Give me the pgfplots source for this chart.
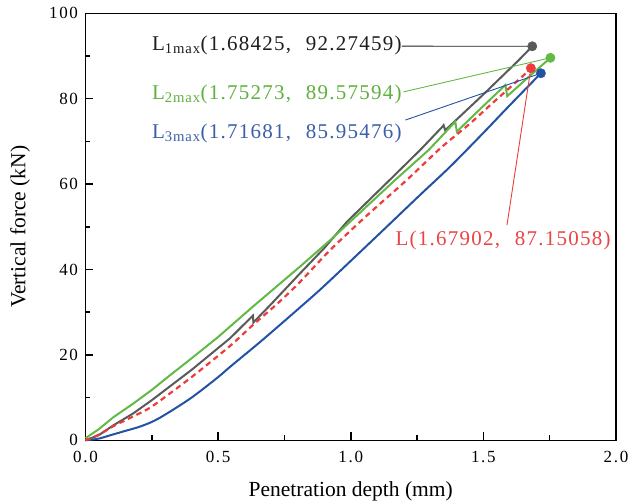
\documentclass[border=0pt]{standalone}
\usepackage{fontspec}
\setmainfont{Liberation Serif}
\newfontfamily\annfont[LetterSpace=6]{Liberation Serif}
\newfontfamily\tickfont[LetterSpace=10]{Liberation Serif}
\usepackage{pgfplots}
\pgfplotsset{compat=1.18}
\definecolor{cgray}{HTML}{5A5A5A}
\definecolor{cgreen}{HTML}{62B946}
\definecolor{cblue}{HTML}{2352A5}
\definecolor{cred}{HTML}{EE3B3B}
\definecolor{tgray}{HTML}{1E1E1E}
\definecolor{tgreen}{HTML}{5FB13F}
\definecolor{tblue}{HTML}{3A5FA8}
\definecolor{tred}{HTML}{E84545}

\pgfplotstableread{
x y
0 0
0.05 1.2
0.105 3.5
0.18 6.3
0.25 9.4
0.4 16.5
0.545 23.9
0.631 29.2
0.633 27.6
0.7 31.9
0.809 39.1
0.9 45.0
0.986 51.2
1.149 61.1
1.262 68.0
1.345 73.4
1.35 73.8
1.356 72.6
1.5 81.0
1.633 89.0
1.68425 92.27459
}\grayL

\pgfplotstableread{
x y
0 0.5
0.05 2.6
0.105 5.4
0.18 8.6
0.25 11.8
0.32 15.3
0.4 19.2
0.5 24.2
0.631 31.3
0.809 40.7
0.923 46.9
0.986 50.5
1.168 61.0
1.294 68.0
1.394 74.6
1.40 72.3
1.5 78.3
1.583 83.2
1.59 80.6
1.66 84.5
1.75273 89.57594
}\greenL

\pgfplotstableread{
x y
0 0
0.05 1.3
0.105 3.3
0.18 5.6
0.25 7.9
0.4 14.8
0.545 22.1
0.631 27.0
0.727 32.2
0.809 37.1
0.923 44.6
1.06 52.6
1.212 61.0
1.338 68.4
1.45 74.2
1.526 78.5
1.652 85.5
1.67902 87.15058
}\redL

\pgfplotstableread{
x y
0 0
0.05 0.4
0.1 1.3
0.15 2.2
0.2 3.1
0.25 4.3
0.3 6.0
0.4 10.0
0.5 14.8
0.545 17.2
0.671 23.7
0.847 33.2
0.923 37.5
1.1 47.9
1.262 57.5
1.375 64.1
1.5 72.0
1.6 78.5
1.71681 85.95476
}\blueL

\begin{document}
\begin{tikzpicture}
\begin{axis}[
  at={(0,0)}, anchor=south west,
  scale only axis, width=530.5bp, height=427bp,
  xmin=0, xmax=2, ymin=0, ymax=100,
  xtick={0,0.5,1,1.5,2}, xticklabels={0.0,0.5,1.0,1.5,2.0},
  minor xtick={0.25,0.75,1.25,1.75},
  ytick={0,20,40,60,80,100}, yticklabels={0,20,40,60,80,100},
  minor ytick={10,30,50,70,90},
  tick pos=left, tick align=inside,
  major tick length=8bp, minor tick length=5bp,
  axis line style={line width=1.5bp},
  every tick/.style={black, line width=1.5bp},
  ticklabel style={font=\tickfont\fontsize{17bp}{20bp}\selectfont},
  xticklabel style={yshift=-7bp},
  yticklabel style={xshift=-4bp},
  xlabel={Penetration depth (mm)},
  ylabel={Vertical force (kN)},
  label style={font=\fontsize{21.5bp}{25bp}\selectfont},
  xlabel style={at={([yshift=-55.7bp]axis description cs:0.5,0)}, anchor=base},
  ylabel style={at={([xshift=-60bp]axis description cs:0,0.5)}, anchor=base, rotate=0},
  clip=false,
]
\addplot[cblue, line width=2bp, smooth, tension=0.5] table {\blueL};
\addplot[cgray, line width=2bp] table {\grayL};
\addplot[cgreen, line width=2bp] table {\greenL};
\addplot[cred, line width=2.2bp, dash pattern=on 5.5bp off 4bp, smooth, tension=0.4] table {\redL};

% leader lines
\draw[tgray, line width=0.9bp] (axis cs:1.193,92.3) -- (axis cs:1.68425,92.27459);
\draw[cgreen, line width=0.9bp] (axis cs:1.199,81.6) -- (axis cs:1.75273,89.57594);
\draw[cblue, line width=0.9bp] (axis cs:1.206,75.0) -- (axis cs:1.71681,85.95476);
\draw[cred, line width=0.9bp] (axis cs:1.589,50.4) -- (axis cs:1.67902,87.15058);

% max points
\addplot[only marks, mark=*, mark size=4.7bp, color=cgray] coordinates {(1.68425,92.27459)};
\addplot[only marks, mark=*, mark size=4.7bp, color=cgreen] coordinates {(1.75273,89.57594)};
\addplot[only marks, mark=*, mark size=4.7bp, color=cblue] coordinates {(1.71681,85.95476)};
\addplot[only marks, mark=*, mark size=4.7bp, color=cred] coordinates {(1.67902,87.15058)};

% annotations
\node[anchor=base west, inner sep=0pt, text=tgray, font=\annfont\fontsize{21bp}{24bp}\selectfont]
  at (axis cs:0.25,91.2) {L\textsubscript{1max}(1.68425,\hspace{0.7em}92.27459)};
\node[anchor=base west, inner sep=0pt, text=tgreen, font=\annfont\fontsize{21bp}{24bp}\selectfont]
  at (axis cs:0.25,79.9) {L\textsubscript{2max}(1.75273,\hspace{0.7em}89.57594)};
\node[anchor=base west, inner sep=0pt, text=tblue, font=\annfont\fontsize{21bp}{24bp}\selectfont]
  at (axis cs:0.25,70.6) {L\textsubscript{3max}(1.71681,\hspace{0.7em}85.95476)};
\node[anchor=base west, inner sep=0pt, text=tred, font=\annfont\fontsize{21bp}{24bp}\selectfont]
  at (axis cs:1.168,45.7) {L(1.67902,\hspace{0.7em}87.15058)};
\end{axis}
\pgfresetboundingbox
\path (-85.5bp,-61.7bp) rectangle (544.5bp,440.3bp);
\end{tikzpicture}
\end{document}
